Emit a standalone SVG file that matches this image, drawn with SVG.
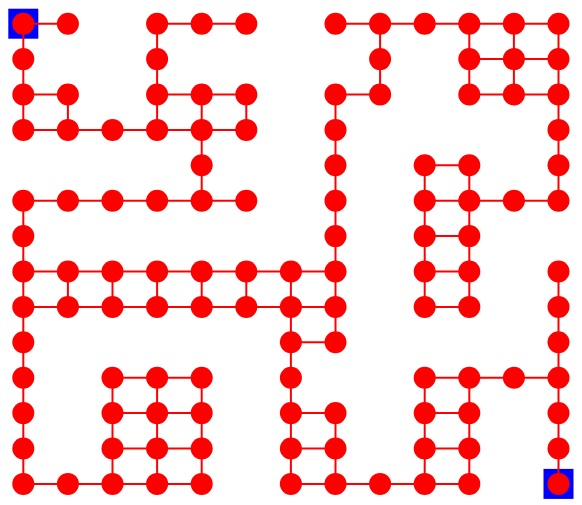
<svg xmlns="http://www.w3.org/2000/svg" width="582" height="505" viewBox="0 0 582 505">
<style>
.bg{fill:#ffffff}
.mark{fill:#0000ff}
.e{stroke:#ff0000;stroke-width:2;fill:none}
.n{fill:#ff0000}
</style>
<rect class="bg" x="0" y="0" width="582" height="505"/>
<g id="markers">
<rect class="mark" x="8.3" y="8.7" width="30" height="30"/>
<rect class="mark" x="543.5" y="468.9" width="30" height="30"/>
</g>
<g id="connectors">
<!-- horizontal -->
<line class="e" x1="23.3" y1="23.7" x2="67.9" y2="23.7"/>
<line class="e" x1="157.1" y1="23.7" x2="246.3" y2="23.7"/>
<line class="e" x1="335.5" y1="23.7" x2="558.5" y2="23.7"/>
<line class="e" x1="469.3" y1="59.1" x2="558.5" y2="59.1"/>
<line class="e" x1="23.3" y1="94.5" x2="67.9" y2="94.5"/>
<line class="e" x1="157.1" y1="94.5" x2="246.3" y2="94.5"/>
<line class="e" x1="335.5" y1="94.5" x2="380.1" y2="94.5"/>
<line class="e" x1="469.3" y1="94.5" x2="558.5" y2="94.5"/>
<line class="e" x1="23.3" y1="129.9" x2="246.3" y2="129.9"/>
<line class="e" x1="424.7" y1="165.3" x2="469.3" y2="165.3"/>
<line class="e" x1="23.3" y1="200.7" x2="246.3" y2="200.7"/>
<line class="e" x1="424.7" y1="200.7" x2="558.5" y2="200.7"/>
<line class="e" x1="424.7" y1="236.1" x2="469.3" y2="236.1"/>
<line class="e" x1="23.3" y1="271.5" x2="335.5" y2="271.5"/>
<line class="e" x1="424.7" y1="271.5" x2="469.3" y2="271.5"/>
<line class="e" x1="23.3" y1="306.9" x2="335.5" y2="306.9"/>
<line class="e" x1="424.7" y1="306.9" x2="469.3" y2="306.9"/>
<line class="e" x1="290.9" y1="342.3" x2="335.5" y2="342.3"/>
<line class="e" x1="112.5" y1="377.7" x2="201.7" y2="377.7"/>
<line class="e" x1="424.7" y1="377.7" x2="558.5" y2="377.7"/>
<line class="e" x1="112.5" y1="413.1" x2="201.7" y2="413.1"/>
<line class="e" x1="290.9" y1="413.1" x2="335.5" y2="413.1"/>
<line class="e" x1="424.7" y1="413.1" x2="469.3" y2="413.1"/>
<line class="e" x1="112.5" y1="448.5" x2="201.7" y2="448.5"/>
<line class="e" x1="290.9" y1="448.5" x2="335.5" y2="448.5"/>
<line class="e" x1="424.7" y1="448.5" x2="469.3" y2="448.5"/>
<line class="e" x1="23.3" y1="483.9" x2="201.7" y2="483.9"/>
<line class="e" x1="290.9" y1="483.9" x2="469.3" y2="483.9"/>
<!-- vertical -->
<line class="e" x1="23.3" y1="23.7" x2="23.3" y2="129.9"/>
<line class="e" x1="23.3" y1="200.7" x2="23.3" y2="483.9"/>
<line class="e" x1="67.9" y1="94.5" x2="67.9" y2="129.9"/>
<line class="e" x1="67.9" y1="271.5" x2="67.9" y2="306.9"/>
<line class="e" x1="112.5" y1="271.5" x2="112.5" y2="306.9"/>
<line class="e" x1="112.5" y1="377.7" x2="112.5" y2="483.9"/>
<line class="e" x1="157.1" y1="23.7" x2="157.1" y2="129.9"/>
<line class="e" x1="157.1" y1="271.5" x2="157.1" y2="306.9"/>
<line class="e" x1="157.1" y1="377.7" x2="157.1" y2="483.9"/>
<line class="e" x1="201.7" y1="94.5" x2="201.7" y2="200.7"/>
<line class="e" x1="201.7" y1="271.5" x2="201.7" y2="306.9"/>
<line class="e" x1="201.7" y1="377.7" x2="201.7" y2="483.9"/>
<line class="e" x1="246.3" y1="94.5" x2="246.3" y2="129.9"/>
<line class="e" x1="246.3" y1="271.5" x2="246.3" y2="306.9"/>
<line class="e" x1="290.9" y1="271.5" x2="290.9" y2="483.9"/>
<line class="e" x1="335.5" y1="94.5" x2="335.5" y2="342.3"/>
<line class="e" x1="335.5" y1="413.1" x2="335.5" y2="483.9"/>
<line class="e" x1="380.1" y1="23.7" x2="380.1" y2="94.5"/>
<line class="e" x1="424.7" y1="165.3" x2="424.7" y2="306.9"/>
<line class="e" x1="424.7" y1="377.7" x2="424.7" y2="483.9"/>
<line class="e" x1="469.3" y1="23.7" x2="469.3" y2="94.5"/>
<line class="e" x1="469.3" y1="165.3" x2="469.3" y2="306.9"/>
<line class="e" x1="469.3" y1="377.7" x2="469.3" y2="483.9"/>
<line class="e" x1="513.9" y1="23.7" x2="513.9" y2="94.5"/>
<line class="e" x1="558.5" y1="23.7" x2="558.5" y2="200.7"/>
<line class="e" x1="558.5" y1="271.5" x2="558.5" y2="483.9"/>
</g>
<g id="nodes">
<g id="n0_0"><circle class="n" cx="23.3" cy="23.7" r="11"/></g>
<g id="n1_0"><circle class="n" cx="67.9" cy="23.7" r="11"/></g>
<g id="n3_0"><circle class="n" cx="157.1" cy="23.7" r="11"/></g>
<g id="n4_0"><circle class="n" cx="201.7" cy="23.7" r="11"/></g>
<g id="n5_0"><circle class="n" cx="246.3" cy="23.7" r="11"/></g>
<g id="n7_0"><circle class="n" cx="335.5" cy="23.7" r="11"/></g>
<g id="n8_0"><circle class="n" cx="380.1" cy="23.7" r="11"/></g>
<g id="n9_0"><circle class="n" cx="424.7" cy="23.7" r="11"/></g>
<g id="n10_0"><circle class="n" cx="469.3" cy="23.7" r="11"/></g>
<g id="n11_0"><circle class="n" cx="513.9" cy="23.7" r="11"/></g>
<g id="n12_0"><circle class="n" cx="558.5" cy="23.7" r="11"/></g>

<g id="n0_1"><circle class="n" cx="23.3" cy="59.1" r="11"/></g>
<g id="n3_1"><circle class="n" cx="157.1" cy="59.1" r="11"/></g>
<g id="n8_1"><circle class="n" cx="380.1" cy="59.1" r="11"/></g>
<g id="n10_1"><circle class="n" cx="469.3" cy="59.1" r="11"/></g>
<g id="n11_1"><circle class="n" cx="513.9" cy="59.1" r="11"/></g>
<g id="n12_1"><circle class="n" cx="558.5" cy="59.1" r="11"/></g>

<g id="n0_2"><circle class="n" cx="23.3" cy="94.5" r="11"/></g>
<g id="n1_2"><circle class="n" cx="67.9" cy="94.5" r="11"/></g>
<g id="n3_2"><circle class="n" cx="157.1" cy="94.5" r="11"/></g>
<g id="n4_2"><circle class="n" cx="201.7" cy="94.5" r="11"/></g>
<g id="n5_2"><circle class="n" cx="246.3" cy="94.5" r="11"/></g>
<g id="n7_2"><circle class="n" cx="335.5" cy="94.5" r="11"/></g>
<g id="n8_2"><circle class="n" cx="380.1" cy="94.5" r="11"/></g>
<g id="n10_2"><circle class="n" cx="469.3" cy="94.5" r="11"/></g>
<g id="n11_2"><circle class="n" cx="513.9" cy="94.5" r="11"/></g>
<g id="n12_2"><circle class="n" cx="558.5" cy="94.5" r="11"/></g>

<g id="n0_3"><circle class="n" cx="23.3" cy="129.9" r="11"/></g>
<g id="n1_3"><circle class="n" cx="67.9" cy="129.9" r="11"/></g>
<g id="n2_3"><circle class="n" cx="112.5" cy="129.9" r="11"/></g>
<g id="n3_3"><circle class="n" cx="157.1" cy="129.9" r="11"/></g>
<g id="n4_3"><circle class="n" cx="201.7" cy="129.9" r="11"/></g>
<g id="n5_3"><circle class="n" cx="246.3" cy="129.9" r="11"/></g>
<g id="n7_3"><circle class="n" cx="335.5" cy="129.9" r="11"/></g>
<g id="n12_3"><circle class="n" cx="558.5" cy="129.9" r="11"/></g>

<g id="n4_4"><circle class="n" cx="201.7" cy="165.3" r="11"/></g>
<g id="n7_4"><circle class="n" cx="335.5" cy="165.3" r="11"/></g>
<g id="n9_4"><circle class="n" cx="424.7" cy="165.3" r="11"/></g>
<g id="n10_4"><circle class="n" cx="469.3" cy="165.3" r="11"/></g>
<g id="n12_4"><circle class="n" cx="558.5" cy="165.3" r="11"/></g>

<g id="n0_5"><circle class="n" cx="23.3" cy="200.7" r="11"/></g>
<g id="n1_5"><circle class="n" cx="67.9" cy="200.7" r="11"/></g>
<g id="n2_5"><circle class="n" cx="112.5" cy="200.7" r="11"/></g>
<g id="n3_5"><circle class="n" cx="157.1" cy="200.7" r="11"/></g>
<g id="n4_5"><circle class="n" cx="201.7" cy="200.7" r="11"/></g>
<g id="n5_5"><circle class="n" cx="246.3" cy="200.7" r="11"/></g>
<g id="n7_5"><circle class="n" cx="335.5" cy="200.7" r="11"/></g>
<g id="n9_5"><circle class="n" cx="424.7" cy="200.7" r="11"/></g>
<g id="n10_5"><circle class="n" cx="469.3" cy="200.7" r="11"/></g>
<g id="n11_5"><circle class="n" cx="513.9" cy="200.7" r="11"/></g>
<g id="n12_5"><circle class="n" cx="558.5" cy="200.7" r="11"/></g>

<g id="n0_6"><circle class="n" cx="23.3" cy="236.1" r="11"/></g>
<g id="n7_6"><circle class="n" cx="335.5" cy="236.1" r="11"/></g>
<g id="n9_6"><circle class="n" cx="424.7" cy="236.1" r="11"/></g>
<g id="n10_6"><circle class="n" cx="469.3" cy="236.1" r="11"/></g>

<g id="n0_7"><circle class="n" cx="23.3" cy="271.5" r="11"/></g>
<g id="n1_7"><circle class="n" cx="67.9" cy="271.5" r="11"/></g>
<g id="n2_7"><circle class="n" cx="112.5" cy="271.5" r="11"/></g>
<g id="n3_7"><circle class="n" cx="157.1" cy="271.5" r="11"/></g>
<g id="n4_7"><circle class="n" cx="201.7" cy="271.5" r="11"/></g>
<g id="n5_7"><circle class="n" cx="246.3" cy="271.5" r="11"/></g>
<g id="n6_7"><circle class="n" cx="290.9" cy="271.5" r="11"/></g>
<g id="n7_7"><circle class="n" cx="335.5" cy="271.5" r="11"/></g>
<g id="n9_7"><circle class="n" cx="424.7" cy="271.5" r="11"/></g>
<g id="n10_7"><circle class="n" cx="469.3" cy="271.5" r="11"/></g>
<g id="n12_7"><circle class="n" cx="558.5" cy="271.5" r="11"/></g>

<g id="n0_8"><circle class="n" cx="23.3" cy="306.9" r="11"/></g>
<g id="n1_8"><circle class="n" cx="67.9" cy="306.9" r="11"/></g>
<g id="n2_8"><circle class="n" cx="112.5" cy="306.9" r="11"/></g>
<g id="n3_8"><circle class="n" cx="157.1" cy="306.9" r="11"/></g>
<g id="n4_8"><circle class="n" cx="201.7" cy="306.9" r="11"/></g>
<g id="n5_8"><circle class="n" cx="246.3" cy="306.9" r="11"/></g>
<g id="n6_8"><circle class="n" cx="290.9" cy="306.9" r="11"/></g>
<g id="n7_8"><circle class="n" cx="335.5" cy="306.9" r="11"/></g>
<g id="n9_8"><circle class="n" cx="424.7" cy="306.9" r="11"/></g>
<g id="n10_8"><circle class="n" cx="469.3" cy="306.9" r="11"/></g>
<g id="n12_8"><circle class="n" cx="558.5" cy="306.9" r="11"/></g>

<g id="n0_9"><circle class="n" cx="23.3" cy="342.3" r="11"/></g>
<g id="n6_9"><circle class="n" cx="290.9" cy="342.3" r="11"/></g>
<g id="n7_9"><circle class="n" cx="335.5" cy="342.3" r="11"/></g>
<g id="n12_9"><circle class="n" cx="558.5" cy="342.3" r="11"/></g>

<g id="n0_10"><circle class="n" cx="23.3" cy="377.7" r="11"/></g>
<g id="n2_10"><circle class="n" cx="112.5" cy="377.7" r="11"/></g>
<g id="n3_10"><circle class="n" cx="157.1" cy="377.7" r="11"/></g>
<g id="n4_10"><circle class="n" cx="201.7" cy="377.7" r="11"/></g>
<g id="n6_10"><circle class="n" cx="290.9" cy="377.7" r="11"/></g>
<g id="n9_10"><circle class="n" cx="424.7" cy="377.7" r="11"/></g>
<g id="n10_10"><circle class="n" cx="469.3" cy="377.7" r="11"/></g>
<g id="n11_10"><circle class="n" cx="513.9" cy="377.7" r="11"/></g>
<g id="n12_10"><circle class="n" cx="558.5" cy="377.7" r="11"/></g>

<g id="n0_11"><circle class="n" cx="23.3" cy="413.1" r="11"/></g>
<g id="n2_11"><circle class="n" cx="112.5" cy="413.1" r="11"/></g>
<g id="n3_11"><circle class="n" cx="157.1" cy="413.1" r="11"/></g>
<g id="n4_11"><circle class="n" cx="201.7" cy="413.1" r="11"/></g>
<g id="n6_11"><circle class="n" cx="290.9" cy="413.1" r="11"/></g>
<g id="n7_11"><circle class="n" cx="335.5" cy="413.1" r="11"/></g>
<g id="n9_11"><circle class="n" cx="424.7" cy="413.1" r="11"/></g>
<g id="n10_11"><circle class="n" cx="469.3" cy="413.1" r="11"/></g>
<g id="n12_11"><circle class="n" cx="558.5" cy="413.1" r="11"/></g>

<g id="n0_12"><circle class="n" cx="23.3" cy="448.5" r="11"/></g>
<g id="n2_12"><circle class="n" cx="112.5" cy="448.5" r="11"/></g>
<g id="n3_12"><circle class="n" cx="157.1" cy="448.5" r="11"/></g>
<g id="n4_12"><circle class="n" cx="201.7" cy="448.5" r="11"/></g>
<g id="n6_12"><circle class="n" cx="290.9" cy="448.5" r="11"/></g>
<g id="n7_12"><circle class="n" cx="335.5" cy="448.5" r="11"/></g>
<g id="n9_12"><circle class="n" cx="424.7" cy="448.5" r="11"/></g>
<g id="n10_12"><circle class="n" cx="469.3" cy="448.5" r="11"/></g>
<g id="n12_12"><circle class="n" cx="558.5" cy="448.5" r="11"/></g>

<g id="n0_13"><circle class="n" cx="23.3" cy="483.9" r="11"/></g>
<g id="n1_13"><circle class="n" cx="67.9" cy="483.9" r="11"/></g>
<g id="n2_13"><circle class="n" cx="112.5" cy="483.9" r="11"/></g>
<g id="n3_13"><circle class="n" cx="157.1" cy="483.9" r="11"/></g>
<g id="n4_13"><circle class="n" cx="201.7" cy="483.9" r="11"/></g>
<g id="n6_13"><circle class="n" cx="290.9" cy="483.9" r="11"/></g>
<g id="n7_13"><circle class="n" cx="335.5" cy="483.9" r="11"/></g>
<g id="n8_13"><circle class="n" cx="380.1" cy="483.9" r="11"/></g>
<g id="n9_13"><circle class="n" cx="424.7" cy="483.9" r="11"/></g>
<g id="n10_13"><circle class="n" cx="469.3" cy="483.9" r="11"/></g>
<g id="n12_13"><circle class="n" cx="558.5" cy="483.9" r="11"/></g>
</g>
</svg>
